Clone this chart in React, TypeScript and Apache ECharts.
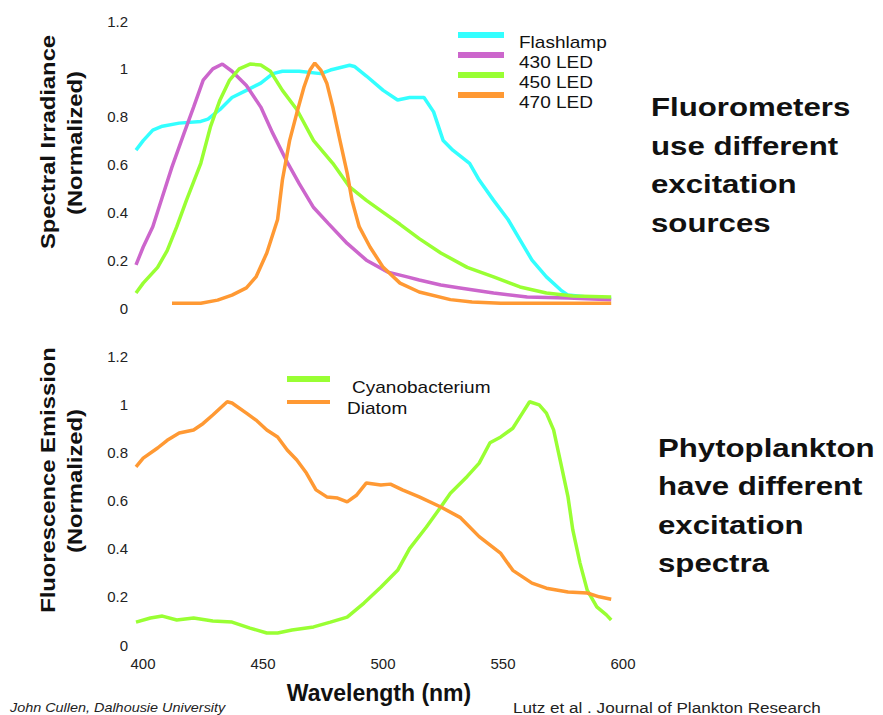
import React, { useEffect, useRef } from "react";
import * as echarts from "echarts";

// ---- Data (wavelength nm, normalized value) ----
const topNames = ["Flashlamp", "430 LED", "450 LED", "470 LED"];
const topColors = ["#33FFFF", "#CC66CC", "#99FF33", "#FF9933"];

const flashlamp: [number, number][] = [
  [400, 0.66], [403, 0.7], [407, 0.744], [411, 0.76], [418, 0.773], [427, 0.78], [430, 0.79],
  [435, 0.83], [440, 0.88], [446, 0.91], [452, 0.94], [457, 0.98], [461, 0.99], [468, 0.99],
  [477, 0.98], [481, 0.995], [489, 1.015], [491, 1.01], [496, 0.97], [503, 0.91], [509, 0.87],
  [514, 0.88], [520, 0.88], [524, 0.82], [528, 0.7], [532, 0.66], [539, 0.605], [543, 0.535],
  [549, 0.45], [555, 0.37], [560, 0.285], [565, 0.2], [571, 0.13], [577, 0.075], [580, 0.054],
  [588, 0.046], [598, 0.04],
];
const led430: [number, number][] = [
  [400, 0.18], [403, 0.255], [407, 0.34], [411, 0.465], [415, 0.59], [420, 0.73], [424, 0.84],
  [428, 0.953], [432, 1.0], [436, 1.02], [440, 0.99], [446, 0.93], [452, 0.84], [457, 0.73],
  [463, 0.61], [468, 0.52], [474, 0.42], [480, 0.355], [488, 0.27], [496, 0.2], [505, 0.15],
  [513, 0.13], [518, 0.117], [527, 0.096], [535, 0.084], [549, 0.063], [563, 0.046],
  [580, 0.042], [598, 0.035],
];
const led450: [number, number][] = [
  [400, 0.063], [403, 0.104], [409, 0.17], [413, 0.24], [417, 0.34], [421, 0.45], [427, 0.605],
  [431, 0.757], [435, 0.87], [439, 0.953], [443, 1.0], [447.5, 1.02], [452, 1.016], [456, 0.99],
  [461, 0.91], [467, 0.83], [474, 0.7], [482, 0.605], [489, 0.506], [496, 0.45], [503, 0.4],
  [510, 0.35], [518, 0.29], [527, 0.23], [538, 0.17], [549, 0.13], [560, 0.088], [571, 0.063],
  [582, 0.05], [598, 0.046],
];
const led470: [number, number][] = [
  [415, 0.02], [427, 0.02], [434, 0.033], [440, 0.054], [446, 0.084], [450, 0.13], [454.5, 0.23],
  [459, 0.37], [461, 0.535], [464, 0.7], [467, 0.815], [470, 0.924], [472.5, 0.995],
  [474.5, 1.024], [477, 0.995], [479.5, 0.94], [482, 0.84], [485, 0.7], [488, 0.564], [490, 0.45],
  [493, 0.34], [497.5, 0.255], [503, 0.17], [510, 0.104], [518, 0.067], [531, 0.035],
  [540, 0.025], [552, 0.02], [598, 0.02],
];
const topSeries = [flashlamp, led430, led450, led470];

const bottomNames = ["Cyanobacterium", "Diatom"];
const bottomColors = ["#99FF33", "#FF9933"];

const cyanobacterium: [number, number][] = [
  [400, 0.095], [406, 0.112], [411, 0.12], [417, 0.104], [424, 0.112], [432, 0.1], [440, 0.095],
  [447.5, 0.07], [454.5, 0.05], [459, 0.05], [465, 0.062], [474, 0.075], [481, 0.095],
  [488, 0.116], [495, 0.174], [502, 0.24], [509, 0.31], [514, 0.4], [521, 0.49], [527, 0.573],
  [531, 0.63], [538, 0.7], [543, 0.755], [547.5, 0.84], [552, 0.864], [557, 0.9], [561, 0.963],
  [564, 1.01], [568, 0.997], [571, 0.963], [574, 0.893], [577, 0.755], [580, 0.615],
  [582, 0.478], [585, 0.34], [588, 0.228], [592, 0.158], [596, 0.125], [598, 0.104],
];
const diatom: [number, number][] = [
  [400, 0.74], [403, 0.776], [409, 0.818], [413, 0.85], [418, 0.88], [424, 0.893], [428, 0.92],
  [432, 0.955], [438, 1.01], [440, 1.005], [446, 0.963], [450, 0.934], [454.5, 0.893],
  [459, 0.864], [463, 0.81], [467, 0.768], [471, 0.714], [475, 0.644], [479.5, 0.615],
  [484, 0.61], [488, 0.594], [492, 0.623], [496, 0.673], [502, 0.664], [506, 0.668],
  [511, 0.644], [518, 0.615], [527, 0.573], [535, 0.53], [543, 0.45], [552, 0.38], [557, 0.31],
  [565, 0.257], [571, 0.236], [580, 0.22], [588, 0.216], [593, 0.2], [598, 0.19],
];
const bottomSeries = [cyanobacterium, diatom];

const yTicks = [0, 0.2, 0.4, 0.6, 0.8, 1, 1.2];
const xTicks = [400, 450, 500, 550, 600];

const topTitle = ["Spectral Irradiance", "(Normalized)"];
const bottomTitle = ["Fluorescence Emission", "(Normalized)"];
const topNote = ["Fluorometers", "use different", "excitation", "sources"];
const bottomNote = ["Phytoplankton", "have different", "excitation", "spectra"];
const xTitle = "Wavelength (nm)";
const creditLeft = "John Cullen, Dalhousie University";
const creditRight = "Lutz et al . Journal of Plankton Research";

const FONT = "'Liberation Sans', Arial, sans-serif";

export default function App() {
  const ref = useRef<HTMLDivElement>(null);
  useEffect(() => {
    if (!ref.current) return;
    const chart = echarts.init(ref.current, undefined, { renderer: "svg" });

    const yAxisBase = {
      type: "value" as const,
      min: 0,
      max: yTicks[yTicks.length - 1],
      interval: 0.2,
      axisLine: { show: false },
      axisTick: { show: false },
      splitLine: { show: false },
      axisLabel: { color: "#222", fontSize: 15, fontFamily: FONT, margin: 8 },
    };

    const graphics: any[] = [];
    // rotated y titles
    const rotTitle = (lines: string[], xs: number[], ys: number[]) => {
      lines.forEach((t, i) => {
        graphics.push({
          type: "text",
          x: xs[i],
          y: ys[i],
          rotation: Math.PI / 2,
          scaleX: 1.19,
          style: {
            text: t,
            fontFamily: FONT,
            fontWeight: "bold",
            fontSize: 20,
            fill: "#111",
            align: "center",
            verticalAlign: "middle",
          },
        });
      });
    };
    rotTitle(topTitle, [48, 75], [142, 143]);
    rotTitle(bottomTitle, [48, 75], [480, 481]);

    const noteBlock = (lines: string[], x: number, y0: number, lh: number) => {
      lines.forEach((t, i) => {
        graphics.push({
          type: "text",
          x,
          y: y0 + i * lh,
          scaleX: 1.2,
          style: {
            text: t,
            fontFamily: FONT,
            fontWeight: "bold",
            fontSize: 26,
            fill: "#111",
            align: "left",
            verticalAlign: "middle",
          },
        });
      });
    };
    noteBlock(topNote, 651, 107, 38.7);
    noteBlock(bottomNote, 658, 448, 38.3);

    // legends
    const legend = (names: string[], colors: string[], x1: number, x2: number, tx: number[], ly: number[], ty: number[], widths: number[]) => {
      names.forEach((n, i) => {
        graphics.push({
          type: "line",
          shape: { x1, y1: ly[i], x2, y2: ly[i] },
          style: { stroke: colors[i], lineWidth: widths[i] },
        });
        graphics.push({
          type: "text",
          x: tx[i],
          y: ty[i],
          scaleX: 1.12,
          style: {
            text: n,
            fontFamily: FONT,
            fontSize: 17,
            fill: "#111",
            align: "left",
            verticalAlign: "middle",
          },
        });
      });
    };
    legend(topNames, topColors, 458, 504, [519, 519, 519, 519], [35, 55, 75, 95], [42, 62, 82, 102], [6, 6, 6, 6]);
    legend(bottomNames, bottomColors, 287, 330, [352, 347], [379, 402], [387, 408], [6, 4]);

    graphics.push({
      type: "text",
      x: 10,
      y: 708,
      scaleX: 1.2,
      style: { text: creditLeft, fontFamily: FONT, fontStyle: "italic", fontSize: 12, fill: "#222", align: "left", verticalAlign: "middle" },
    });
    graphics.push({
      type: "text",
      x: 513,
      y: 707,
      scaleX: 1.14,
      style: { text: creditRight, fontFamily: FONT, fontSize: 15, fill: "#222", align: "left", verticalAlign: "middle" },
    });

    const option: any = {
      animation: false,
      backgroundColor: "#fff",
      grid: [
        { left: 136, width: 480, top: 21, height: 287 },
        { left: 136, width: 480, top: 356, height: 289 },
      ],
      xAxis: [
        {
          gridIndex: 0, type: "value", min: 400, max: 600, interval: 50,
          axisLine: { show: false }, axisTick: { show: false }, splitLine: { show: false },
          axisLabel: { show: false },
        },
        {
          gridIndex: 1, type: "value", min: xTicks[0], max: xTicks[xTicks.length - 1], interval: 50,
          axisLine: { show: false }, axisTick: { show: false }, splitLine: { show: false },
          axisLabel: { color: "#222", fontSize: 15, fontFamily: FONT, margin: 11, padding: [0, 0, 0, 14] },
          name: xTitle,
          nameLocation: "middle",
          nameGap: 36,
          nameTextStyle: { fontFamily: FONT, fontWeight: "bold", fontSize: 23, color: "#111", padding: [0, 0, 0, 6] },
        },
      ],
      yAxis: [
        { ...yAxisBase, gridIndex: 0 },
        { ...yAxisBase, gridIndex: 1 },
      ],
      series: [
        ...topSeries.map((d, i) => ({
          name: topNames[i],
          type: "line",
          xAxisIndex: 0,
          yAxisIndex: 0,
          data: d,
          showSymbol: false,
          lineStyle: { color: topColors[i], width: 3.5 },
          itemStyle: { color: topColors[i] },
          z: i === 0 ? 1 : 2 + i,
        })),
        ...bottomSeries.map((d, i) => ({
          name: bottomNames[i],
          type: "line",
          xAxisIndex: 1,
          yAxisIndex: 1,
          data: d,
          showSymbol: false,
          lineStyle: { color: bottomColors[i], width: 3.5 },
          itemStyle: { color: bottomColors[i] },
        })),
      ],
      graphic: graphics,
    };
    chart.setOption(option);
    return () => chart.dispose();
  }, []);

  return <div ref={ref} style={{ width: 883, height: 715, position: "absolute", left: 0, top: 0 }} />;
}
